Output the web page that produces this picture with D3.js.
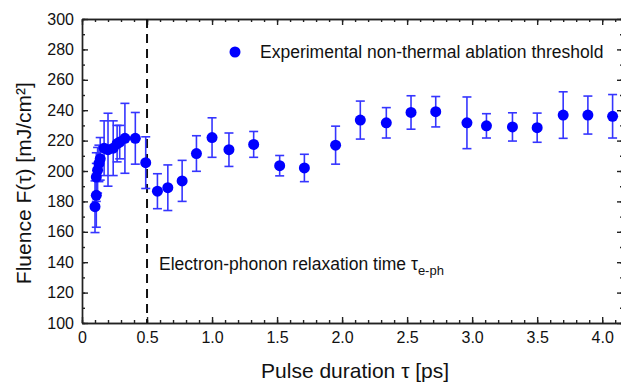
<!DOCTYPE html>
<html>
<head>
<meta charset="utf-8">
<script src="https://cdn.jsdelivr.net/npm/d3@7"></script>
<style>
  body { margin: 0; background: #fff; }
  svg { display: block; font-family: Arial, "Liberation Sans", sans-serif; }
  .axis path, .axis line { stroke: #222; stroke-width: 1.4; }
  .axis text { font-size: 16px; fill: #111; }
</style>
</head>
<body>
<svg id="chart" width="621" height="383"></svg>
<script>
// pulse duration tau [ps]
const tau = [0.10, 0.11, 0.11, 0.12, 0.13, 0.14, 0.17, 0.20, 0.24, 0.27, 0.29, 0.33, 0.41,
  0.49, 0.58, 0.66, 0.77, 0.88, 1.00, 1.13, 1.32, 1.52, 1.71, 1.95, 2.14, 2.34, 2.53,
  2.72, 2.96, 3.11, 3.31, 3.50, 3.70, 3.89, 4.08];
// threshold fluence [mJ/cm2]
const fluence = [176.5, 184, 196, 200.5, 205, 208, 215, 214, 215, 218, 219, 221.5, 221.5,
  205.5, 186.7, 189, 193.5, 211.5, 222, 214, 217.5, 203.5, 202, 217, 233.5, 231.7, 238.5,
  239, 231.7, 229.7, 229, 228.5, 236.8, 236.8, 236];
// error bar half length
const errs = [17, 21, 16, 15, 12, 14, 18, 24, 18, 12, 11, 23, 17,
  17, 11.5, 15, 13.5, 11.7, 13, 11, 8.5, 6.7, 9, 12.5, 12.5, 10, 11,
  10, 17, 8, 9.3, 9.6, 15.3, 12.5, 14.3];
const xTicks = [0, 0.5, 1.0, 1.5, 2.0, 2.5, 3.0, 3.5, 4.0];
const xTickLabels = ['0', '0.5', '1.0', '1.5', '2.0', '2.5', '3.0', '3.5', '4.0'];
const yTicks = [100, 120, 140, 160, 180, 200, 220, 240, 260, 280, 300];
const relaxTime = 0.5; // electron-phonon relaxation time marker

const points = tau.map((t, i) => ({ t: t, f: fluence[i], e: errs[i] }));

const svg = d3.select('#chart');
const margin = { top: 19, right: -2, bottom: 60, left: 82 };
const width = 621 - margin.left - margin.right;
const height = 383 - margin.top - margin.bottom;
const chart = svg.append('g').attr('transform', `translate(${margin.left}, ${margin.top})`);

const xScale = d3.scaleLinear().domain([0, 4.16]).range([0, width]);
const yScale = d3.scaleLinear().domain([100, 300]).range([height, 0]);

const xMinor = d3.range(0, 4.16, 0.1);
const yMinor = d3.range(100, 301, 10);

// minor ticks on all four sides
chart.append('g').attr('class', 'axis')
  .attr('transform', `translate(0, ${height})`)
  .call(d3.axisBottom(xScale).tickValues(xMinor).tickSizeInner(-3).tickSizeOuter(0).tickFormat(''));
chart.append('g').attr('class', 'axis')
  .call(d3.axisTop(xScale).tickValues(xMinor).tickSizeInner(-3).tickSizeOuter(0).tickFormat(''));
chart.append('g').attr('class', 'axis')
  .call(d3.axisLeft(yScale).tickValues(yMinor).tickSizeInner(-3).tickSizeOuter(0).tickFormat(''));
chart.append('g').attr('class', 'axis')
  .attr('transform', `translate(${width}, 0)`)
  .call(d3.axisRight(yScale).tickValues(yMinor).tickSizeInner(-3).tickSizeOuter(0).tickFormat(''));

// major ticks with labels
chart.append('g').attr('class', 'axis axis-x')
  .attr('transform', `translate(0, ${height})`)
  .call(d3.axisBottom(xScale).tickValues(xTicks).tickSizeInner(-6).tickSizeOuter(0)
    .tickPadding(9).tickFormat((d, i) => xTickLabels[i]));
chart.append('g').attr('class', 'axis axis-y')
  .call(d3.axisLeft(yScale).tickValues(yTicks).tickSizeInner(-6).tickSizeOuter(0)
    .tickPadding(8).tickFormat(d3.format('d')));
chart.append('g').attr('class', 'axis')
  .call(d3.axisTop(xScale).tickValues(xTicks).tickSizeInner(-6).tickSizeOuter(0).tickFormat(''));
chart.append('g').attr('class', 'axis')
  .attr('transform', `translate(${width}, 0)`)
  .call(d3.axisRight(yScale).tickValues(yTicks).tickSizeInner(-6).tickSizeOuter(0).tickFormat(''));

// dashed line at the relaxation time
chart.append('line')
  .attr('x1', xScale(relaxTime)).attr('x2', xScale(relaxTime))
  .attr('y1', 0).attr('y2', height)
  .attr('stroke', '#111').attr('stroke-width', 2).attr('stroke-dasharray', '9,6');

// error bars
const bars = chart.selectAll('.err').data(points).enter().append('g').attr('class', 'err')
  .attr('stroke', '#3535ff').attr('stroke-width', 1.6);
bars.append('line')
  .attr('x1', d => xScale(d.t)).attr('x2', d => xScale(d.t))
  .attr('y1', d => yScale(d.f - d.e)).attr('y2', d => yScale(d.f + d.e));
bars.append('line')
  .attr('x1', d => xScale(d.t) - 4.5).attr('x2', d => xScale(d.t) + 4.5)
  .attr('y1', d => yScale(d.f + d.e)).attr('y2', d => yScale(d.f + d.e));
bars.append('line')
  .attr('x1', d => xScale(d.t) - 4.5).attr('x2', d => xScale(d.t) + 4.5)
  .attr('y1', d => yScale(d.f - d.e)).attr('y2', d => yScale(d.f - d.e));

// data points
chart.selectAll('.dot').data(points).enter().append('circle').attr('class', 'dot')
  .attr('cx', d => xScale(d.t)).attr('cy', d => yScale(d.f))
  .attr('r', 5.5).attr('fill', '#0000ff');

// legend
chart.append('circle').attr('cx', 153).attr('cy', 33).attr('r', 5.5).attr('fill', '#0000ff');
chart.append('text').attr('x', 178).attr('y', 39)
  .attr('font-size', 17.5).attr('fill', '#111')
  .text('Experimental non-thermal ablation threshold');

// annotation
const note = chart.append('text').attr('x', xScale(relaxTime) + 12).attr('y', 251)
  .attr('font-size', 17.5).attr('fill', '#111');
note.append('tspan').text('Electron-phonon relaxation time \u03c4');
note.append('tspan').attr('dy', 5).attr('font-size', 13).text('e-ph');

// axis titles
svg.append('text')
  .attr('x', margin.left + xScale(2.1)).attr('y', 378)
  .attr('text-anchor', 'middle').attr('font-size', 21).attr('fill', '#111')
  .text('Pulse duration \u03c4 [ps]');
svg.append('text')
  .attr('transform', `translate(31, ${margin.top + yScale(192)}) rotate(-90)`)
  .attr('text-anchor', 'middle').attr('font-size', 21).attr('fill', '#111')
  .text('Fluence F(\u03c4) [mJ/cm\u00b2]');
</script>
</body>
</html>
